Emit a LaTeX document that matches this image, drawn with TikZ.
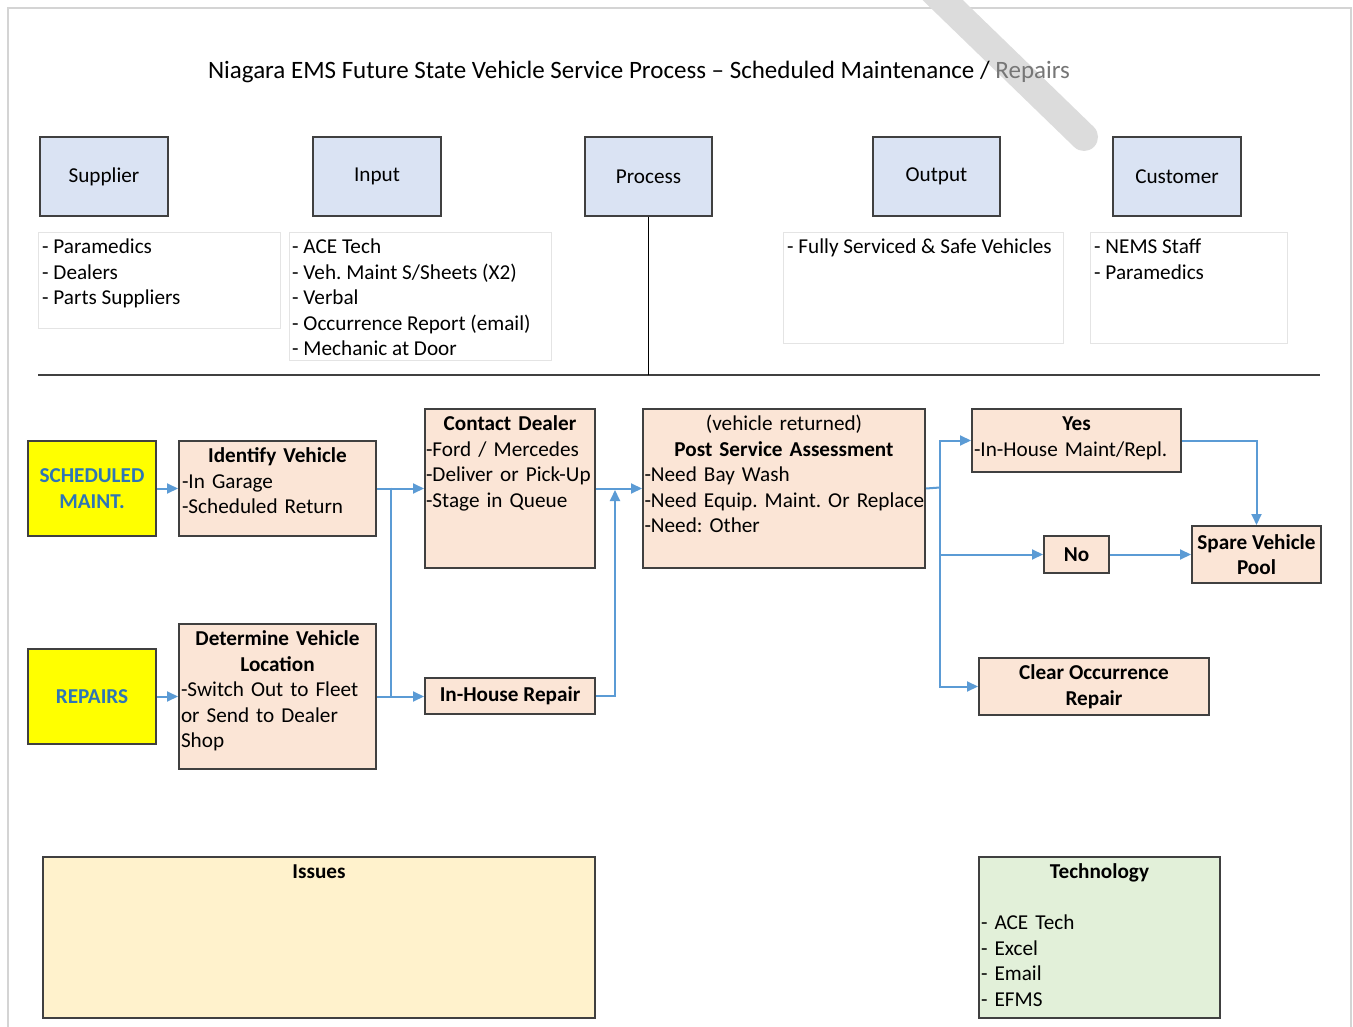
\documentclass[tikz,border=0pt]{standalone}
\usepackage{fontspec}
\setmainfont{Carlito}
\usetikzlibrary{arrows.meta}
\definecolor{headfill}{HTML}{DAE3F3}
\definecolor{flowfill}{HTML}{FBE5D6}
\definecolor{issuefill}{HTML}{FFF2CC}
\definecolor{techfill}{HTML}{E2F0D9}
\definecolor{startfill}{HTML}{FFFF00}
\definecolor{starttext}{HTML}{2E75B6}
\definecolor{boxline}{HTML}{404040}
\definecolor{listline}{HTML}{E4E4E4}
\definecolor{frameline}{HTML}{D4D4D4}
\definecolor{flowblue}{HTML}{5B9BD5}
\definecolor{smudge}{HTML}{DCDCDC}
\definecolor{titlegrey}{HTML}{767676}
\frenchspacing
\begin{document}
\begin{tikzpicture}[x=1pt,y=-1pt,
  basefont/.style={font=\fontsize{21.2}{25.5}\selectfont},
  boldfont/.style={font=\fontsize{21.2}{25.5}\selectfont\bfseries},
  headbox/.style={draw=boxline, line width=2pt, fill=headfill, inner sep=0pt,
    minimum width=128pt, minimum height=79pt, anchor=north west, basefont},
  listbox/.style={draw=listline, line width=1pt, inner sep=0pt, anchor=north west},
  flowbox/.style={draw=boxline, line width=2pt, fill=flowfill, inner sep=0pt, anchor=north west},
  startbox/.style={draw=boxline, line width=2pt, fill=startfill, inner sep=0pt,
    minimum width=128pt, minimum height=95pt, anchor=north west,
    boldfont, text=starttext, align=center},
  txt/.style={inner sep=0pt, basefont, anchor=north, align=left},
  conn/.style={draw=flowblue, line width=2pt},
  arr/.style={conn, -{Triangle[length=11pt,width=10pt]}},
]
\useasboundingbox (0,0) rectangle (1353,1027);
\fill[white] (0,0) rectangle (1353,1027);
\draw[frameline, line width=1.2pt] (8,1040) -- (8,8) -- (1351,8) -- (1351,1040);

% grey stroke across the top right
\draw[smudge, line width=28pt, line cap=round] (922,-20) -- (1084,137);

% title
\node[font=\fontsize{25}{30}\selectfont] (title) at (639,72)
  {Niagara EMS Future State Vehicle Service Process – Scheduled Maintenance / \textcolor{titlegrey}{Repairs}};

% SIPOC header boxes
\node[headbox] (supplier) at (39,136) {Supplier};
\node[headbox] (input) at (312,136) {Input};
\node[headbox, minimum width=127pt] (process) at (584,136) {Process};
\node[headbox, minimum width=127pt] (output) at (872,136) {Output};
\node[headbox] (customer) at (1112,136) {Customer};

% lists under the headers
\node[listbox, minimum width=242pt, minimum height=96pt] (suplist) at (38,232) {};
\node[txt, anchor=north west] (suplist-t) at ([xshift=4pt,yshift=-3.6pt]suplist.north west)
  {\strut- Paramedics\\- Dealers\\- Parts Suppliers};
\node[listbox, minimum width=262pt, minimum height=128pt] (inlist) at (289,232) {};
\node[txt, anchor=north west] (inlist-t) at ([xshift=3pt,yshift=-3.6pt]inlist.north west)
  {\strut- ACE Tech\\- Veh. Maint S/Sheets (X2)\\- Verbal\\- Occurrence Report (email)\\- Mechanic at Door};
\node[listbox, minimum width=280pt, minimum height=111pt] (outlist) at (783,232) {};
\node[txt, anchor=north west] (outlist-t) at ([xshift=4pt,yshift=-3.6pt]outlist.north west)
  {\strut- Fully Serviced \& Safe Vehicles};
\node[listbox, minimum width=197pt, minimum height=111pt] (custlist) at (1090,232) {};
\node[txt, anchor=north west] (custlist-t) at ([xshift=4pt,yshift=-3.6pt]custlist.north west)
  {\strut- NEMS Staff\\- Paramedics};

% separator
\coordinate (sepL) at (38,375);
\coordinate (sepR) at (1320,375);
\draw[boxline, line width=2.4pt] (sepL) -- (sepR);
\draw[black, line width=1.8pt] (process.south) -- (process.south |- sepL);

% process flow boxes
\node[startbox] (sched) at (27,440) {SCHEDULED\\MAINT.};
\node[startbox] (repairs) at (27,648) {REPAIRS};

\node[flowbox, minimum width=197pt, minimum height=95pt] (ident) at (178,440) {};
\node[txt, text width=191pt] (ident-t) at ([yshift=-4.5pt]ident.north)
  {{\centering\bfseries\strut Identify Vehicle\par}-In Garage\\-Scheduled Return};

\node[flowbox, minimum width=197pt, minimum height=145pt] (determine) at (178,623) {};
\node[txt, text width=193pt] (determine-t) at ([yshift=-4.5pt]determine.north)
  {{\centering\bfseries\strut Determine Vehicle\\Location\par}-Switch Out to Fleet\\or Send to Dealer\\Shop};

\node[flowbox, minimum width=170pt, minimum height=159pt] (dealer) at (424,408) {};
\node[txt, text width=168pt] (dealer-t) at ([yshift=-4.5pt]dealer.north)
  {{\centering\bfseries\strut Contact Dealer\par}-Ford / Mercedes\\\mbox{-Deliver or Pick-Up}\\-Stage in Queue};

\node[flowbox, minimum width=170pt, minimum height=36pt, boldfont]
  (inhouse) at (424,677) {In-House Repair};

\node[flowbox, minimum width=282pt, minimum height=159pt] (post) at (642,408) {};
\node[txt, text width=279pt] (post-t) at ([yshift=-4.5pt]post.north)
  {{\centering\strut(vehicle returned)\\\bfseries Post Service Assessment\par}-Need Bay Wash\\\mbox{-Need Equip. Maint. Or Replace}\\-Need: Other};

\node[flowbox, minimum width=209pt, minimum height=63pt] (yes) at (971,408) {};
\node[txt, text width=205pt] (yes-t) at ([yshift=-4.5pt]yes.north)
  {{\centering\bfseries\strut Yes\par}-In-House Maint/Repl.};

\node[flowbox, minimum width=65pt, minimum height=37pt, boldfont] (no) at (1043,535) {No};

\node[flowbox, minimum width=129pt, minimum height=57pt, align=center, boldfont]
  (spare) at (1191,525) {Spare Vehicle\\Pool};

\node[flowbox, minimum width=230pt, minimum height=57pt, align=center, boldfont]
  (clear) at (978,657) {Clear Occurrence\\Repair};

% issues and technology
\node[flowbox, fill=issuefill, minimum width=552pt, minimum height=161pt] (issues) at (42,856) {};
\node[txt, align=center, boldfont] (issues-t) at ([yshift=-4.5pt]issues.north) {\strut Issues};

\node[flowbox, fill=techfill, minimum width=241pt, minimum height=161pt] (tech) at (978,856) {};
\node[txt, text width=237pt] (tech-t) at ([yshift=-4.5pt]tech.north)
  {{\centering\bfseries\strut Technology\par}\strut\\- ACE Tech\\- Excel\\- Email\\- EFMS};

% connectors
\draw[arr] (sched.east) -- (ident.west);
\draw[arr] (repairs.east) -- (repairs.east -| determine.west);

\coordinate (j1) at (391,487.5);
\draw[arr] (ident.east) -- (ident.east -| dealer.west);
\draw[conn] (j1) -- (j1 |- determine.east);
\draw[arr] (determine.east) -- (determine.east -| inhouse.west);

\draw[arr] (dealer.east) -- (post.west);
\coordinate (j2) at (615,490);
\draw[arr] (inhouse.east) -| (j2);

\coordinate (j3) at (940,487.5);
\draw[conn] (post.east) -- (j3);
\draw[arr] (j3) |- (yes.west);
\draw[arr] (j3) |- (clear.west);
\draw[arr] (j3 |- no.west) -- (no.west);
\draw[arr] (no.east) -- (no.east -| spare.west);
\draw[arr] (yes.east) -| (spare.north);
\end{tikzpicture}
\end{document}
